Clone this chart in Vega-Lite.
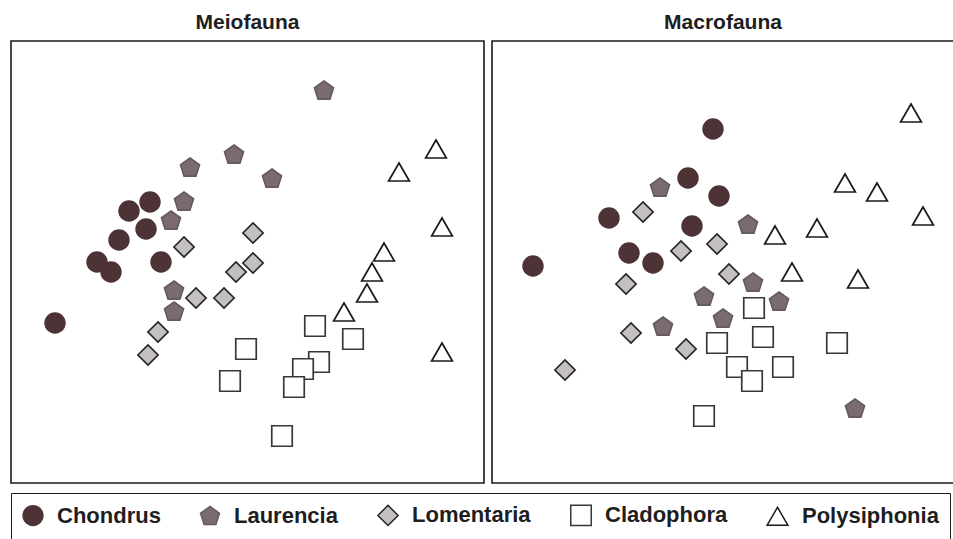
{
  "$schema": "https://vega.github.io/schema/vega-lite/v6.json",
  "padding": {"left": 10, "top": 11, "right": 0, "bottom": 0},
  "background": "white",
  "spacing": 6,
  "datasets": {
    "pts": [
      {"panel": "Meiofauna", "species": "Chondrus", "x": 139, "y": 281},
      {"panel": "Meiofauna", "species": "Chondrus", "x": 118, "y": 272},
      {"panel": "Meiofauna", "species": "Chondrus", "x": 135, "y": 254},
      {"panel": "Meiofauna", "species": "Chondrus", "x": 108, "y": 243},
      {"panel": "Meiofauna", "species": "Chondrus", "x": 86, "y": 221},
      {"panel": "Meiofauna", "species": "Chondrus", "x": 100, "y": 211},
      {"panel": "Meiofauna", "species": "Chondrus", "x": 150, "y": 221},
      {"panel": "Meiofauna", "species": "Chondrus", "x": 44, "y": 160},
      {"panel": "Meiofauna", "species": "Laurencia", "x": 313, "y": 392},
      {"panel": "Meiofauna", "species": "Laurencia", "x": 223, "y": 328},
      {"panel": "Meiofauna", "species": "Laurencia", "x": 179, "y": 315},
      {"panel": "Meiofauna", "species": "Laurencia", "x": 261, "y": 304},
      {"panel": "Meiofauna", "species": "Laurencia", "x": 173, "y": 281},
      {"panel": "Meiofauna", "species": "Laurencia", "x": 160, "y": 262},
      {"panel": "Meiofauna", "species": "Laurencia", "x": 163, "y": 192},
      {"panel": "Meiofauna", "species": "Laurencia", "x": 163, "y": 171},
      {"panel": "Meiofauna", "species": "Lomentaria", "x": 242, "y": 250},
      {"panel": "Meiofauna", "species": "Lomentaria", "x": 173, "y": 236},
      {"panel": "Meiofauna", "species": "Lomentaria", "x": 242, "y": 220},
      {"panel": "Meiofauna", "species": "Lomentaria", "x": 225, "y": 211},
      {"panel": "Meiofauna", "species": "Lomentaria", "x": 185, "y": 185},
      {"panel": "Meiofauna", "species": "Lomentaria", "x": 213, "y": 185},
      {"panel": "Meiofauna", "species": "Lomentaria", "x": 147, "y": 151},
      {"panel": "Meiofauna", "species": "Lomentaria", "x": 137, "y": 128},
      {"panel": "Meiofauna", "species": "Cladophora", "x": 304, "y": 157},
      {"panel": "Meiofauna", "species": "Cladophora", "x": 342, "y": 144},
      {"panel": "Meiofauna", "species": "Cladophora", "x": 235, "y": 134},
      {"panel": "Meiofauna", "species": "Cladophora", "x": 308, "y": 121},
      {"panel": "Meiofauna", "species": "Cladophora", "x": 292, "y": 114},
      {"panel": "Meiofauna", "species": "Cladophora", "x": 219, "y": 102},
      {"panel": "Meiofauna", "species": "Cladophora", "x": 283, "y": 96},
      {"panel": "Meiofauna", "species": "Cladophora", "x": 271, "y": 47},
      {"panel": "Meiofauna", "species": "Polysiphonia", "x": 425, "y": 334},
      {"panel": "Meiofauna", "species": "Polysiphonia", "x": 388, "y": 311},
      {"panel": "Meiofauna", "species": "Polysiphonia", "x": 431, "y": 256},
      {"panel": "Meiofauna", "species": "Polysiphonia", "x": 373, "y": 231},
      {"panel": "Meiofauna", "species": "Polysiphonia", "x": 361, "y": 211},
      {"panel": "Meiofauna", "species": "Polysiphonia", "x": 356, "y": 190},
      {"panel": "Meiofauna", "species": "Polysiphonia", "x": 333, "y": 171},
      {"panel": "Meiofauna", "species": "Polysiphonia", "x": 431, "y": 131},
      {"panel": "Macrofauna", "species": "Chondrus", "x": 221, "y": 354},
      {"panel": "Macrofauna", "species": "Chondrus", "x": 196, "y": 305},
      {"panel": "Macrofauna", "species": "Chondrus", "x": 227, "y": 287},
      {"panel": "Macrofauna", "species": "Chondrus", "x": 117, "y": 265},
      {"panel": "Macrofauna", "species": "Chondrus", "x": 200, "y": 257},
      {"panel": "Macrofauna", "species": "Chondrus", "x": 137, "y": 230},
      {"panel": "Macrofauna", "species": "Chondrus", "x": 161, "y": 220},
      {"panel": "Macrofauna", "species": "Chondrus", "x": 41, "y": 217},
      {"panel": "Macrofauna", "species": "Laurencia", "x": 168, "y": 295},
      {"panel": "Macrofauna", "species": "Laurencia", "x": 256, "y": 258},
      {"panel": "Macrofauna", "species": "Laurencia", "x": 261, "y": 200},
      {"panel": "Macrofauna", "species": "Laurencia", "x": 212, "y": 186},
      {"panel": "Macrofauna", "species": "Laurencia", "x": 287, "y": 181},
      {"panel": "Macrofauna", "species": "Laurencia", "x": 231, "y": 164},
      {"panel": "Macrofauna", "species": "Laurencia", "x": 171, "y": 156},
      {"panel": "Macrofauna", "species": "Laurencia", "x": 363, "y": 74},
      {"panel": "Macrofauna", "species": "Lomentaria", "x": 151, "y": 271},
      {"panel": "Macrofauna", "species": "Lomentaria", "x": 225, "y": 239},
      {"panel": "Macrofauna", "species": "Lomentaria", "x": 189, "y": 232},
      {"panel": "Macrofauna", "species": "Lomentaria", "x": 237, "y": 209},
      {"panel": "Macrofauna", "species": "Lomentaria", "x": 134, "y": 199},
      {"panel": "Macrofauna", "species": "Lomentaria", "x": 139, "y": 150},
      {"panel": "Macrofauna", "species": "Lomentaria", "x": 194, "y": 134},
      {"panel": "Macrofauna", "species": "Lomentaria", "x": 73, "y": 113},
      {"panel": "Macrofauna", "species": "Cladophora", "x": 262, "y": 175},
      {"panel": "Macrofauna", "species": "Cladophora", "x": 271, "y": 146},
      {"panel": "Macrofauna", "species": "Cladophora", "x": 225, "y": 140},
      {"panel": "Macrofauna", "species": "Cladophora", "x": 345, "y": 140},
      {"panel": "Macrofauna", "species": "Cladophora", "x": 245, "y": 116},
      {"panel": "Macrofauna", "species": "Cladophora", "x": 291, "y": 116},
      {"panel": "Macrofauna", "species": "Cladophora", "x": 260, "y": 102},
      {"panel": "Macrofauna", "species": "Cladophora", "x": 212, "y": 67},
      {"panel": "Macrofauna", "species": "Polysiphonia", "x": 419, "y": 370},
      {"panel": "Macrofauna", "species": "Polysiphonia", "x": 353, "y": 300},
      {"panel": "Macrofauna", "species": "Polysiphonia", "x": 385, "y": 291},
      {"panel": "Macrofauna", "species": "Polysiphonia", "x": 431, "y": 267},
      {"panel": "Macrofauna", "species": "Polysiphonia", "x": 283, "y": 248},
      {"panel": "Macrofauna", "species": "Polysiphonia", "x": 325, "y": 255},
      {"panel": "Macrofauna", "species": "Polysiphonia", "x": 300, "y": 211},
      {"panel": "Macrofauna", "species": "Polysiphonia", "x": 366, "y": 204}
    ]
  },
  "data": {"name": "pts"},
  "hconcat": [
    {
      "title": {"text": "Meiofauna"},
      "width": 473,
      "height": 442,
      "transform": [{"filter": "datum.panel === 'Meiofauna'"}],
      "mark": {"type": "point", "opacity": 1, "strokeWidth": 1.7},
      "encoding": {
        "x": {"field": "x", "type": "quantitative", "scale": {"domain": [0, 473], "nice": false, "zero": false}, "axis": null},
        "y": {"field": "y", "type": "quantitative", "scale": {"domain": [0, 442], "nice": false, "zero": false}, "axis": null},
        "shape": {"field": "species", "type": "nominal", "scale": {"domain": ["Chondrus", "Laurencia", "Lomentaria", "Cladophora", "Polysiphonia"], "range": ["circle", "M0,-1L0.951,-0.309L0.588,0.809L-0.588,0.809L-0.951,-0.309Z", "diamond", "square", "triangle-up"]}, "legend": {"title": null}},
        "fill": {"field": "species", "type": "nominal", "scale": {"domain": ["Chondrus", "Laurencia", "Lomentaria", "Cladophora", "Polysiphonia"], "range": ["#4e3336", "#7a6b6f", "#c4bfc0", "#ffffff", "#ffffff"]}, "legend": {"title": null}},
        "stroke": {"field": "species", "type": "nominal", "scale": {"domain": ["Chondrus", "Laurencia", "Lomentaria", "Cladophora", "Polysiphonia"], "range": ["#4e3336", "#665a5d", "#262626", "#383838", "#1a1a1a"]}, "legend": {"title": null}},
        "size": {"field": "species", "type": "nominal", "scale": {"domain": ["Chondrus", "Laurencia", "Lomentaria", "Cladophora", "Polysiphonia"], "range": [390, 430, 540, 250, 390]}, "legend": {"title": null}}
      }
    },
    {
      "title": {"text": "Macrofauna"},
      "width": 462,
      "height": 442,
      "transform": [{"filter": "datum.panel === 'Macrofauna'"}],
      "mark": {"type": "point", "opacity": 1, "strokeWidth": 1.7},
      "encoding": {
        "x": {"field": "x", "type": "quantitative", "scale": {"domain": [0, 462], "nice": false, "zero": false}, "axis": null},
        "y": {"field": "y", "type": "quantitative", "scale": {"domain": [0, 442], "nice": false, "zero": false}, "axis": null},
        "shape": {"field": "species", "type": "nominal", "scale": {"domain": ["Chondrus", "Laurencia", "Lomentaria", "Cladophora", "Polysiphonia"], "range": ["circle", "M0,-1L0.951,-0.309L0.588,0.809L-0.588,0.809L-0.951,-0.309Z", "diamond", "square", "triangle-up"]}, "legend": {"title": null}},
        "fill": {"field": "species", "type": "nominal", "scale": {"domain": ["Chondrus", "Laurencia", "Lomentaria", "Cladophora", "Polysiphonia"], "range": ["#4e3336", "#7a6b6f", "#c4bfc0", "#ffffff", "#ffffff"]}, "legend": {"title": null}},
        "stroke": {"field": "species", "type": "nominal", "scale": {"domain": ["Chondrus", "Laurencia", "Lomentaria", "Cladophora", "Polysiphonia"], "range": ["#4e3336", "#665a5d", "#262626", "#383838", "#1a1a1a"]}, "legend": {"title": null}},
        "size": {"field": "species", "type": "nominal", "scale": {"domain": ["Chondrus", "Laurencia", "Lomentaria", "Cladophora", "Polysiphonia"], "range": [390, 430, 540, 250, 390]}, "legend": {"title": null}}
      }
    }
  ],
  "resolve": {"scale": {"x": "independent", "y": "independent"}},
  "config": {
    "view": {"stroke": "#1a1a1a", "strokeWidth": 1.6},
    "title": {"font": "Liberation Sans", "fontSize": 21, "fontWeight": "bold", "color": "#1e1e1e", "anchor": "middle", "offset": 8},
    "legend": {
      "orient": "bottom",
      "direction": "horizontal",
      "offset": 9,
      "padding": 11,
      "strokeColor": "#1a1a1a",
      "labelFont": "Liberation Sans",
      "labelFontSize": 22,
      "labelFontWeight": "bold",
      "labelColor": "#1e1e1e",
      "labelOffset": 13,
      "columnPadding": 36,
      "symbolStrokeWidth": 1.5,
      "labelLimit": 300
    }
  }
}
